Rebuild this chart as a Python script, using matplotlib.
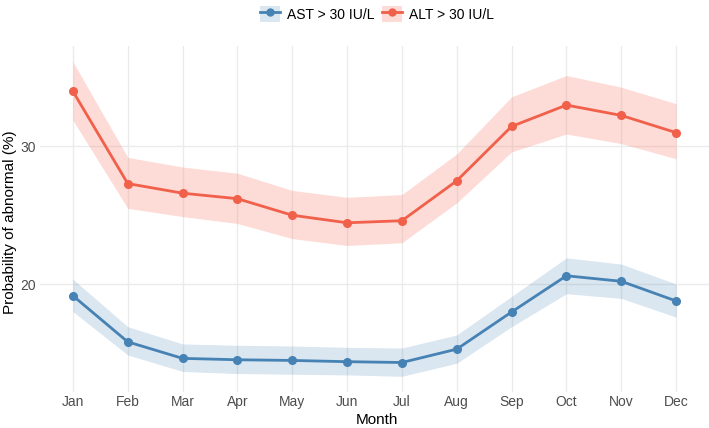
import numpy as np
import matplotlib.pyplot as plt
from matplotlib.patches import Patch
from matplotlib.lines import Line2D

plt.rcParams['font.family'] = ['Liberation Sans', 'DejaVu Sans']

months = ['Jan', 'Feb', 'Mar', 'Apr', 'May', 'Jun', 'Jul', 'Aug', 'Sep', 'Oct', 'Nov', 'Dec']

# AST > 30 IU/L
ast_mean  = [19.15, 15.8, 14.6, 14.5, 14.45, 14.36, 14.3, 15.27, 17.97, 20.6, 20.2, 18.77]
ast_upper = [20.35, 16.9, 15.65, 15.55, 15.5, 15.4, 15.35, 16.3, 19.1, 21.9, 21.45, 20.0]
ast_lower = [18.0, 14.85, 13.65, 13.5, 13.45, 13.4, 13.3, 14.25, 16.9, 19.3, 18.96, 17.6]

# ALT > 30 IU/L
alt_mean  = [34.0, 27.3, 26.6, 26.2, 25.0, 24.45, 24.6, 27.5, 31.45, 33.0, 32.25, 31.0]
alt_upper = [36.15, 29.2, 28.5, 28.05, 26.8, 26.3, 26.5, 29.45, 33.6, 35.15, 34.3, 33.1]
alt_lower = [31.9, 25.5, 24.9, 24.4, 23.3, 22.8, 23.0, 25.9, 29.6, 30.9, 30.2, 29.1]

ast_col = '#4682B4'
alt_col = '#F0604A'
alt_fill = '#FA8072'

x = np.arange(len(months))

W, H = 709, 428
fig = plt.figure(figsize=(W/100, H/100), dpi=100)
ax = fig.add_axes([40/W, 36/H, 669/W, 346/H])

ax.fill_between(x, ast_lower, ast_upper, color=ast_col, alpha=0.2, lw=0)
ax.fill_between(x, alt_lower, alt_upper, color=alt_fill, alpha=0.28, lw=0)
ax.plot(x, ast_mean, color=ast_col, lw=2, marker='o', ms=5.5, zorder=3)
ax.plot(x, alt_mean, color=alt_col, lw=2, marker='o', ms=5.5, zorder=3)

lo = min(ast_lower + alt_lower)
hi = max(ast_upper + alt_upper)
pad = (hi - lo) * 0.05
ax.set_ylim(lo - pad, hi + pad)
ax.set_xlim(-0.6, len(months) - 0.4)

ax.set_xticks(x)
ax.set_xticklabels(months)
ax.set_yticks([20, 30])
ax.tick_params(length=0, labelsize=10, colors='#4D4D4D')
ax.tick_params(axis='x', pad=2.5)
ax.tick_params(axis='y', pad=3)
ax.grid(True, color='#EBEBEB', lw=1)
ax.set_axisbelow(True)
for s in ax.spines.values():
    s.set_visible(False)

fig.text(377/W, 1 - 420/H, 'Month', fontsize=11, ha='center', va='center')
fig.text(10/W, 1 - 222/H, 'Probability of abnormal (%)', fontsize=11, ha='center', va='center',
         rotation=90)

handles = [
    (Patch(facecolor=ast_col, alpha=0.2, lw=0), Line2D([], [], color=ast_col, lw=2, marker='o', ms=5)),
    (Patch(facecolor=alt_fill, alpha=0.28, lw=0), Line2D([], [], color=alt_col, lw=2, marker='o', ms=5)),
]
fig.legend(handles, ['AST > 30 IU/L', 'ALT > 30 IU/L'], loc='center', bbox_to_anchor=(377/W, 1 - 14/H),
           ncol=2, frameon=False, fontsize=10, handlelength=1.4, handleheight=1.4,
           columnspacing=0.6, handletextpad=0.5)

fig.savefig('out.png', dpi=100)
